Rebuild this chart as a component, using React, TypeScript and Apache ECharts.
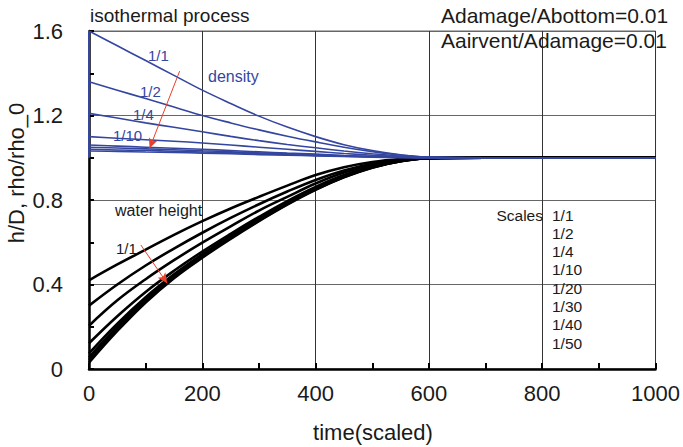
import React, { useEffect, useRef } from "react";
import * as echarts from "echarts";

const TIME = [0, 50, 100, 150, 200, 250, 300, 350, 400, 450, 500, 550, 600, 700, 800, 900, 1000];
const SCALES = ["1/1", "1/2", "1/4", "1/10", "1/20", "1/30", "1/40", "1/50"];

const DENSITY_1_1 = [1.6, 1.53, 1.46, 1.39, 1.32, 1.257, 1.197, 1.145, 1.1, 1.062, 1.034, 1.014, 1.003, 1.0, 1.0, 1.0, 1.0];
const DENSITY_1_2 = [1.36, 1.32, 1.28, 1.24, 1.2, 1.165, 1.132, 1.102, 1.075, 1.05, 1.029, 1.013, 1.003, 1.0, 1.0, 1.0, 1.0];
const DENSITY_1_4 = [1.21, 1.188, 1.165, 1.144, 1.123, 1.101, 1.081, 1.063, 1.047, 1.032, 1.019, 1.008, 1.002, 1.0, 1.0, 1.0, 1.0];
const DENSITY_1_10 = [1.1, 1.092, 1.085, 1.078, 1.07, 1.06, 1.05, 1.04, 1.03, 1.02, 1.012, 1.005, 1.001, 1.0, 1.0, 1.0, 1.0];
const DENSITY_1_20 = [1.06, 1.055, 1.05, 1.045, 1.04, 1.034, 1.028, 1.022, 1.017, 1.011, 1.006, 1.003, 1.001, 1.0, 1.0, 1.0, 1.0];
const DENSITY_1_30 = [1.05, 1.046, 1.042, 1.038, 1.033, 1.028, 1.023, 1.019, 1.014, 1.009, 1.005, 1.002, 1.0, 1.0, 1.0, 1.0, 1.0];
const DENSITY_1_40 = [1.04, 1.037, 1.034, 1.031, 1.027, 1.023, 1.019, 1.015, 1.011, 1.007, 1.004, 1.002, 1.0, 1.0, 1.0, 1.0, 1.0];
const DENSITY_1_50 = [1.032, 1.03, 1.027, 1.025, 1.022, 1.019, 1.015, 1.012, 1.009, 1.006, 1.003, 1.001, 1.0, 1.0, 1.0, 1.0, 1.0];

const HEIGHT_1_1 = [0.42, 0.495, 0.565, 0.635, 0.7, 0.76, 0.815, 0.868, 0.918, 0.955, 0.98, 0.994, 1.0, 1.0, 1.0, 1.0, 1.0];
const HEIGHT_1_2 = [0.3, 0.4, 0.49, 0.57, 0.645, 0.715, 0.78, 0.84, 0.895, 0.94, 0.972, 0.99, 0.999, 1.0, 1.0, 1.0, 1.0];
const HEIGHT_1_4 = [0.205, 0.325, 0.425, 0.515, 0.598, 0.675, 0.75, 0.815, 0.878, 0.93, 0.967, 0.988, 0.998, 1.0, 1.0, 1.0, 1.0];
const HEIGHT_1_10 = [0.122, 0.25, 0.365, 0.465, 0.556, 0.64, 0.72, 0.795, 0.862, 0.918, 0.96, 0.986, 0.998, 1.0, 1.0, 1.0, 1.0];
const HEIGHT_1_20 = [0.074, 0.215, 0.34, 0.448, 0.543, 0.63, 0.712, 0.788, 0.855, 0.913, 0.957, 0.985, 0.998, 1.0, 1.0, 1.0, 1.0];
const HEIGHT_1_30 = [0.055, 0.2, 0.33, 0.44, 0.536, 0.624, 0.707, 0.784, 0.852, 0.91, 0.955, 0.984, 0.998, 1.0, 1.0, 1.0, 1.0];
const HEIGHT_1_40 = [0.043, 0.19, 0.323, 0.435, 0.531, 0.62, 0.703, 0.781, 0.85, 0.909, 0.954, 0.984, 0.998, 1.0, 1.0, 1.0, 1.0];
const HEIGHT_1_50 = [0.03, 0.18, 0.315, 0.43, 0.527, 0.616, 0.7, 0.778, 0.848, 0.907, 0.953, 0.983, 0.998, 1.0, 1.0, 1.0, 1.0];

const DENSITY = [DENSITY_1_1, DENSITY_1_2, DENSITY_1_4, DENSITY_1_10, DENSITY_1_20, DENSITY_1_30, DENSITY_1_40, DENSITY_1_50];
const HEIGHT = [HEIGHT_1_1, HEIGHT_1_2, HEIGHT_1_4, HEIGHT_1_10, HEIGHT_1_20, HEIGHT_1_30, HEIGHT_1_40, HEIGHT_1_50];

// initial jump of the density from rho_0 to its peak at t = 0
const DENSITY_JUMP = [[0, 1.0], [0, 1.6]];
// red arrows (start, end) in data coordinates
const DENSITY_ARROW = [[160, 1.41], [107, 1.045]];
const HEIGHT_ARROW = [[91.5, 0.587], [138, 0.406]];

const FONT = "'Liberation Sans', Arial, sans-serif";
const BLUE = "#3446a0";
const RED = "#e8402a";
const INK = "#1a1a1a";

export default function App() {
  const ref = useRef<HTMLDivElement>(null);

  useEffect(() => {
    if (!ref.current) return;
    const chart = echarts.init(ref.current, undefined, { renderer: "svg" });

    const heightSeries = HEIGHT.map((vals, i) => ({
      type: "line",
      name: "h " + SCALES[i],
      data: TIME.map((t, k) => [t, vals[k]]),
      showSymbol: false,
      smooth: 0.4,
      lineStyle: { color: "#000", width: 2.6 },
      z: 3,
    }));

    const densitySeries = DENSITY.map((vals, i) => ({
      type: "line",
      name: "rho " + SCALES[i],
      data: TIME.map((t, k) => [t, vals[k]]),
      showSymbol: false,
      smooth: 0.4,
      lineStyle: { color: BLUE, width: 1.6 },
      z: 4,
    }));

    const arrowSeries = {
      type: "line",
      name: "jump",
      data: DENSITY_JUMP,
      showSymbol: false,
      lineStyle: { color: BLUE, width: 2 },
      z: 5,
      markLine: {
        silent: true,
        symbol: ["none", "arrow"],
        symbolSize: [7, 10],
        label: { show: false },
        lineStyle: { color: RED, width: 1, type: "solid" },
        data: [
          [{ coord: DENSITY_ARROW[0] }, { coord: DENSITY_ARROW[1] }],
          [{ coord: HEIGHT_ARROW[0] }, { coord: HEIGHT_ARROW[1] }],
        ],
      },
    };

    const txt = (x: number, y: number, text: string, opts: any = {}) => ({
      type: "text",
      x,
      y,
      silent: true,
      style: {
        text,
        fontFamily: FONT,
        fontSize: opts.fontSize ?? 15,
        fill: opts.fill ?? INK,
        align: opts.align ?? "left",
        verticalAlign: "middle",
      },
      rotation: opts.rotation ?? 0,
      z: 10,
    });

    const graphics: any[] = [
      txt(90, 15, "isothermal process", { fontSize: 19 }),
      txt(441, 15, "Adamage/Abottom=0.01", { fontSize: 21 }),
      txt(441, 40, "Aairvent/Adamage=0.01", { fontSize: 21 }),
      txt(148, 55, "1/1", { fill: BLUE }),
      txt(208, 76, "density", { fill: BLUE, fontSize: 16 }),
      txt(140, 91, "1/2", { fill: BLUE }),
      txt(133, 114, "1/4", { fill: BLUE }),
      txt(113, 135, "1/10", { fill: BLUE }),
      txt(115, 210, "water height", { fontSize: 16 }),
      txt(116, 248, "1/1"),
      txt(543, 215, "Scales", { align: "right", fontSize: 15.5 }),
      txt(373, 432, "time(scaled)", { align: "center", fontSize: 22 }),
      txt(16, 173, "h/D, rho/rho_0", { align: "center", fontSize: 22, rotation: Math.PI / 2 }),
    ];
    SCALES.forEach((s, i) => {
      graphics.push(txt(552, 215 + i * 18.3, s, { fontSize: 15.5 }));
    });

    chart.setOption({
      animation: false,
      backgroundColor: "#fff",
      grid: { left: 89, right: 26, top: 31, bottom: 78, show: true, borderColor: "#666", borderWidth: 1 },
      xAxis: {
        type: "value",
        min: 0,
        max: 1000,
        interval: 200,
        axisLine: { show: true, lineStyle: { color: "#000", width: 2.5 } },
        axisTick: { show: true, inside: true, length: 6, lineStyle: { color: "#000", width: 2 } },
        minorTick: { show: true, splitNumber: 2, length: 6, lineStyle: { color: "#000", width: 2 } },
        axisLabel: {
          fontFamily: FONT,
          fontSize: 22,
          color: INK,
          margin: 13,
          formatter: (v: number) => String(v),
        },
        splitLine: { show: true, lineStyle: { color: "#333", width: 1 } },
      },
      yAxis: {
        type: "value",
        min: 0,
        max: 1.6,
        interval: 0.4,
        axisLine: { show: true, lineStyle: { color: "#000", width: 2.5 } },
        axisTick: { show: true, inside: true, length: 5, lineStyle: { color: "#000", width: 2 } },
        minorTick: { show: true, splitNumber: 2, length: 5, lineStyle: { color: "#000", width: 2 } },
        axisLabel: {
          fontFamily: FONT,
          fontSize: 22,
          color: INK,
          margin: 26,
          formatter: (v: number) => (v === 0 ? "0" : v.toFixed(1)),
        },
        splitLine: { show: true, lineStyle: { color: "#666", width: 1 } },
      },
      series: [...heightSeries, ...densitySeries, arrowSeries],
      graphic: graphics,
    });

    return () => chart.dispose();
  }, []);

  return <div ref={ref} style={{ width: 683, height: 447, position: "absolute", left: 0, top: 0 }} />;
}
